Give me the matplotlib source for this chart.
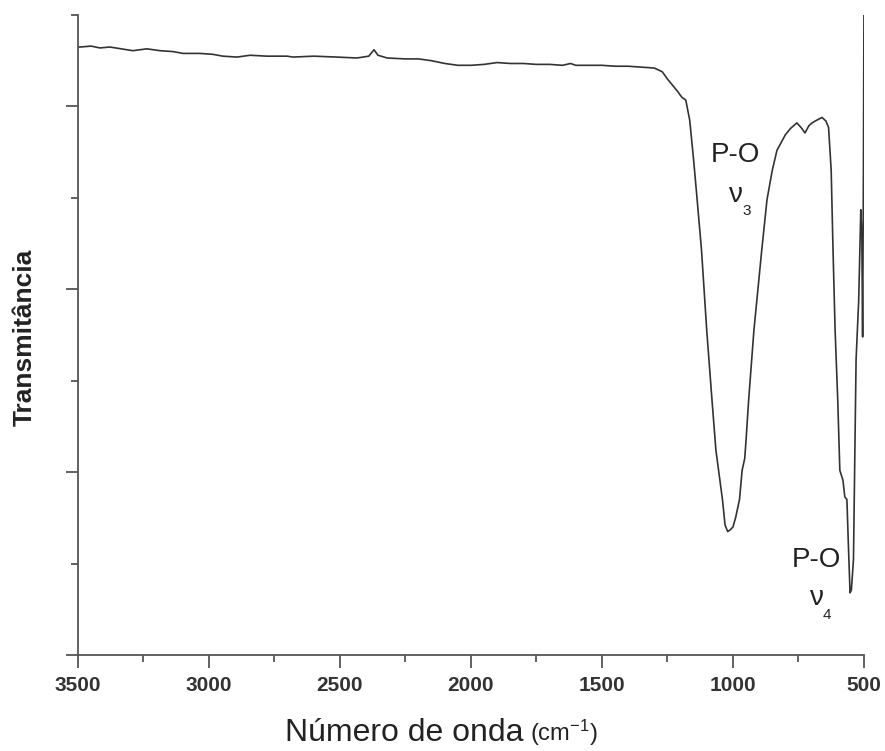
import numpy as np
import matplotlib
matplotlib.use("Agg")
import matplotlib.pyplot as plt
from matplotlib.ticker import MultipleLocator

plt.rcParams['font.family'] = ['Liberation Sans', 'DejaVu Sans']
plt.rcParams['mathtext.fontset'] = 'custom'
plt.rcParams['mathtext.rm'] = 'Liberation Sans'
plt.rcParams['mathtext.it'] = 'Liberation Sans'

# FTIR spectrum (arbitrary transmittance units)
wavenumber = [3500, 3492, 3450, 3416, 3378, 3313, 3290, 3237, 3187, 3137,
              3099, 3034, 2985, 2947, 2893, 2843, 2779, 2702, 2679, 2600,
              2511, 2435, 2390, 2370, 2355, 2320, 2250, 2200, 2150, 2100,
              2050, 2000, 1950, 1900, 1850, 1800, 1750, 1700, 1650, 1620,
              1600, 1550, 1500, 1450, 1400, 1350, 1300, 1270, 1250, 1230,
              1210, 1195, 1180, 1165, 1150, 1140, 1120, 1100, 1080, 1065,
              1040, 1030, 1020, 1010, 1000, 990, 975, 965, 955, 950,
              940, 920, 890, 870, 850, 832, 800, 780, 756, 740,
              725, 710, 698, 680, 660, 645, 635, 625, 618, 610,
              600, 592, 580, 573, 565, 560, 553, 548, 540, 530,
              520, 512, 508, 505, 502, 500]
transmit = [6.65, 6.65, 6.66, 6.64, 6.65, 6.62, 6.61, 6.63, 6.61, 6.60,
            6.58, 6.58, 6.57, 6.55, 6.54, 6.56, 6.55, 6.55, 6.54, 6.55,
            6.54, 6.53, 6.55, 6.62, 6.56, 6.53, 6.52, 6.52, 6.50, 6.47,
            6.45, 6.45, 6.46, 6.48, 6.47, 6.47, 6.46, 6.46, 6.45, 6.47,
            6.45, 6.45, 6.45, 6.44, 6.44, 6.43, 6.42, 6.38, 6.30, 6.23,
            6.16, 6.10, 6.07, 5.85, 5.41, 5.09, 4.43, 3.55, 2.79, 2.24,
            1.70, 1.42, 1.35, 1.37, 1.40, 1.50, 1.70, 2.02, 2.15, 2.35,
            2.79, 3.55, 4.43, 4.98, 5.30, 5.52, 5.69, 5.76, 5.82, 5.77,
            5.71, 5.79, 5.82, 5.85, 5.88, 5.84, 5.77, 5.30, 4.43, 3.55,
            2.79, 2.02, 1.91, 1.73, 1.70, 1.26, 0.68, 0.71, 1.04, 3.23,
            3.88, 4.87, 4.59, 3.48, 5.27, 7.00]

x_ticks = [3500, 3000, 2500, 2000, 1500, 1000, 500]

fig = plt.figure(figsize=(8.85, 7.51), dpi=100)
ax = fig.add_axes([0.0881, 0.1278, 0.8881, 0.8522])

ax.plot(wavenumber, transmit, color='#333333', lw=1.2)

ax.set_xlim(3500, 500)
ax.set_ylim(0, 7)
ax.set_xticks(x_ticks)
ax.set_xticklabels([str(t) for t in x_ticks], fontsize=15, fontweight='bold', color='#333333')
ax.xaxis.set_minor_locator(MultipleLocator(250))
ax.yaxis.set_major_locator(MultipleLocator(2))
ax.yaxis.set_minor_locator(MultipleLocator(1))
ax.set_yticklabels([])

for s in ['top', 'right']:
    ax.spines[s].set_visible(False)
for s in ['left', 'bottom']:
    ax.spines[s].set_color('#555555')
    ax.spines[s].set_linewidth(1.3)
ax.tick_params(which='major', length=9, width=1.3, color='#555555', pad=6)
ax.tick_params(which='minor', length=5, width=1.3, color='#555555')

txt = '#222222'
ax.text(992, 5.47, 'P-O', fontsize=20, color=txt, ha='center', va='center')
ax.text(988, 5.03, 'ν', fontsize=20, color=txt, ha='center', va='center')
ax.text(948, 4.86, '3', fontsize=11, color=txt, ha='center', va='center')
ax.text(683, 1.04, 'P-O', fontsize=20, color=txt, ha='center', va='center')
ax.text(678, 0.62, 'ν', fontsize=20, color=txt, ha='center', va='center')
ax.text(642, 0.44, '4', fontsize=11, color=txt, ha='center', va='center')

fig.text(285/885, 10/751, 'Número de onda', fontsize=23, color=txt, ha='left', va='baseline')
fig.text(530/885, 10/751, r'(cm$^{\mathregular{-1}}$)', fontsize=17, color=txt, ha='left', va='baseline')
fig.text(25/885, (751-337)/751, 'Transmitância', rotation=90, fontsize=19,
         fontweight='bold', color=txt, ha='center', va='center')

fig.savefig('out.png', dpi=100)
